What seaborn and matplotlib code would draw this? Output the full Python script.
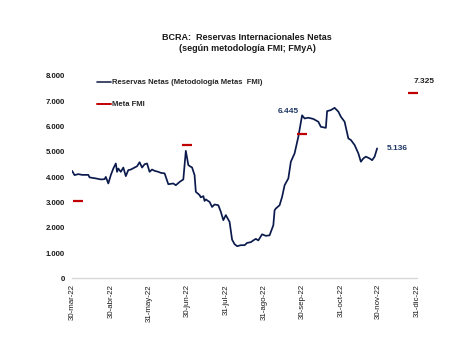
import pandas as pd
import matplotlib.pyplot as plt
from matplotlib.lines import Line2D
import seaborn as sns

# ---------------------------------------
# Data
# ---------------------------------------

fechas = [
    "2022-03-30", "2022-04-01", "2022-04-04", "2022-04-07", "2022-04-12",
    "2022-04-13", "2022-04-18", "2022-04-22", "2022-04-25", "2022-04-26",
    "2022-04-28", "2022-04-30", "2022-05-02", "2022-05-04", "2022-05-05",
    "2022-05-06", "2022-05-08", "2022-05-10", "2022-05-12", "2022-05-14",
    "2022-05-16", "2022-05-19", "2022-05-21", "2022-05-23", "2022-05-25",
    "2022-05-27", "2022-05-29", "2022-05-31", "2022-06-02", "2022-06-04",
    "2022-06-07", "2022-06-09", "2022-06-12", "2022-06-13", "2022-06-15",
    "2022-06-19", "2022-06-21", "2022-06-24", "2022-06-27", "2022-06-29",
    "2022-07-01", "2022-07-02", "2022-07-04", "2022-07-06", "2022-07-07",
    "2022-07-10", "2022-07-11", "2022-07-13", "2022-07-14", "2022-07-15",
    "2022-07-18", "2022-07-20", "2022-07-22", "2022-07-25", "2022-07-27",
    "2022-07-29", "2022-07-31", "2022-08-03", "2022-08-05", "2022-08-07",
    "2022-08-09", "2022-08-12", "2022-08-15", "2022-08-17", "2022-08-20",
    "2022-08-22", "2022-08-24", "2022-08-26", "2022-08-29", "2022-09-01",
    "2022-09-04", "2022-09-07", "2022-09-08", "2022-09-09", "2022-09-12",
    "2022-09-14", "2022-09-16", "2022-09-19", "2022-09-21", "2022-09-24",
    "2022-09-27", "2022-09-30", "2022-10-02", "2022-10-05", "2022-10-09",
    "2022-10-13", "2022-10-15", "2022-10-19", "2022-10-20", "2022-10-23",
    "2022-10-26", "2022-10-29", "2022-10-31", "2022-11-03", "2022-11-06",
    "2022-11-08", "2022-11-11", "2022-11-14", "2022-11-16", "2022-11-18",
    "2022-11-20", "2022-11-23", "2022-11-25", "2022-11-27", "2022-11-29",
]

reservas = [
    4250, 4080, 4120, 4090, 4090,
    3990, 3950, 3910, 3920, 4010,
    3750, 4080, 4340, 4540, 4210,
    4340, 4210, 4380, 4040, 4280,
    4300, 4380, 4430, 4590, 4380,
    4510, 4540, 4210, 4300, 4250,
    4210, 4170, 4150, 4010, 3720,
    3750, 3680, 3810, 3910, 5040,
    4480, 4440, 4380, 4080, 3420,
    3290, 3200, 3250, 3060, 3120,
    3020, 2820, 2920, 2890, 2630,
    2300, 2500, 2230, 1530, 1350,
    1270, 1310, 1310, 1400, 1430,
    1500, 1560, 1500, 1740, 1680,
    1700, 2100, 2690, 2760, 2890,
    3220, 3680, 3950, 4610, 4940,
    5600, 6445, 6320, 6350, 6300,
    6190, 5990, 5950, 6610, 6650,
    6740, 6590, 6390, 6190, 5530,
    5470, 5270, 4940, 4610, 4740,
    4810, 4740, 4670, 4810, 5136,
]

meta_fechas = ["2022-04-04", "2022-06-30", "2022-09-30", "2022-12-28"]
meta_fmi = [3070, 5270, 5690, 7325]

tick_fechas = ["2022-03-30", "2022-04-30", "2022-05-31", "2022-06-30",
               "2022-07-31", "2022-08-31", "2022-09-30", "2022-10-31",
               "2022-11-30", "2022-12-31"]
tick_labels = ["30-mar-22", "30-abr-22", "31-may-22", "30-jun-22",
               "31-jul-22", "31-ago-22", "30-sep-22", "31-oct-22",
               "30-nov-22", "31-dic-22"]

df = pd.DataFrame({"fecha": pd.to_datetime(fechas), "reservas": reservas})
meta = pd.DataFrame({"fecha": pd.to_datetime(meta_fechas), "meta": meta_fmi})

# ---------------------------------------
# Chart
# ---------------------------------------

sns.set_style("white")
plt.rcParams["font.family"] = ["Liberation Sans", "DejaVu Sans"]

navy = "#0b1a4c"
rojo = "#c00000"

fig = plt.figure(figsize=(4.74, 3.55), dpi=100)
ax = fig.add_axes([0.152, 0.216, 0.728, 0.570])

sns.lineplot(data=df, x="fecha", y="reservas", color=navy, linewidth=1.25, ax=ax)
sns.scatterplot(data=meta, x="fecha", y="meta", marker="_", s=55,
                linewidth=1.6, color=rojo, ax=ax, clip_on=False, zorder=3)

ax.set_xlim(pd.Timestamp("2022-03-30"), pd.Timestamp("2022-12-31"))
ax.set_ylim(0, 8000)
yvals = list(range(0, 8001, 1000))
ax.set_yticks(yvals)
ax.set_yticklabels(["0" if v == 0 else f"{v // 1000}.000" for v in yvals],
                   fontsize=5.6, fontweight="bold")
ax.set_xticks(pd.to_datetime(tick_fechas))
ax.set_xticklabels(tick_labels, rotation=90, fontsize=5.7, ha="center", va="top")
ax.tick_params(axis="both", length=0, colors="#1a1a1a")
ax.tick_params(axis="y", pad=5)
ax.tick_params(axis="x", pad=4)
ax.set_xlabel("")
ax.set_ylabel("")

for s in ["top", "right", "left"]:
    ax.spines[s].set_visible(False)
ax.spines["bottom"].set_color("#d9d9d9")
ax.spines["bottom"].set_linewidth(1.0)

# value labels
sep = df[df["fecha"] == pd.Timestamp("2022-09-30")].iloc[0]
ax.annotate(f"{sep['reservas'] / 1000:.3f}", (sep["fecha"], sep["reservas"]),
            xytext=(-2, 2.5), textcoords="offset points", ha="right", va="center",
            fontsize=6, fontweight="bold", color="#1f3864")
ult = df.iloc[-1]
ax.annotate(f"{ult['reservas'] / 1000:.3f}", (ult["fecha"], ult["reservas"]),
            xytext=(7, 0), textcoords="offset points", ha="left", va="center",
            fontsize=6, fontweight="bold", color="#1f3864")
ult_meta = meta.iloc[-1]
ax.annotate(f"{ult_meta['meta'] / 1000:.3f}", (ult_meta["fecha"], ult_meta["meta"]),
            xytext=(0, 8.5), textcoords="offset points", ha="left", va="center",
            fontsize=6, fontweight="bold", color="#222222", annotation_clip=False)

# legend
handles = [Line2D([0], [0], color="#1f2a4f", linewidth=1.2),
           Line2D([0], [0], color=rojo, linewidth=1.4)]
ax.legend(handles, ["Reservas Netas (Metodología Metas  FMI)", "Meta FMI"],
          loc="upper left", bbox_to_anchor=(0.072, 0.985), frameon=False,
          borderaxespad=0, borderpad=0, handlelength=1.9, handletextpad=0.1,
          labelspacing=1.9, prop={"size": 5.5, "weight": "bold"})

fig.text(0.521, 0.879, "BCRA:  Reservas Internacionales Netas\n(según metodología FMI; FMyA)",
         ha="center", va="center", fontsize=6.5, fontweight="bold",
         linespacing=1.3, color="#1a1a1a")

plt.savefig("out.png", dpi=100)
